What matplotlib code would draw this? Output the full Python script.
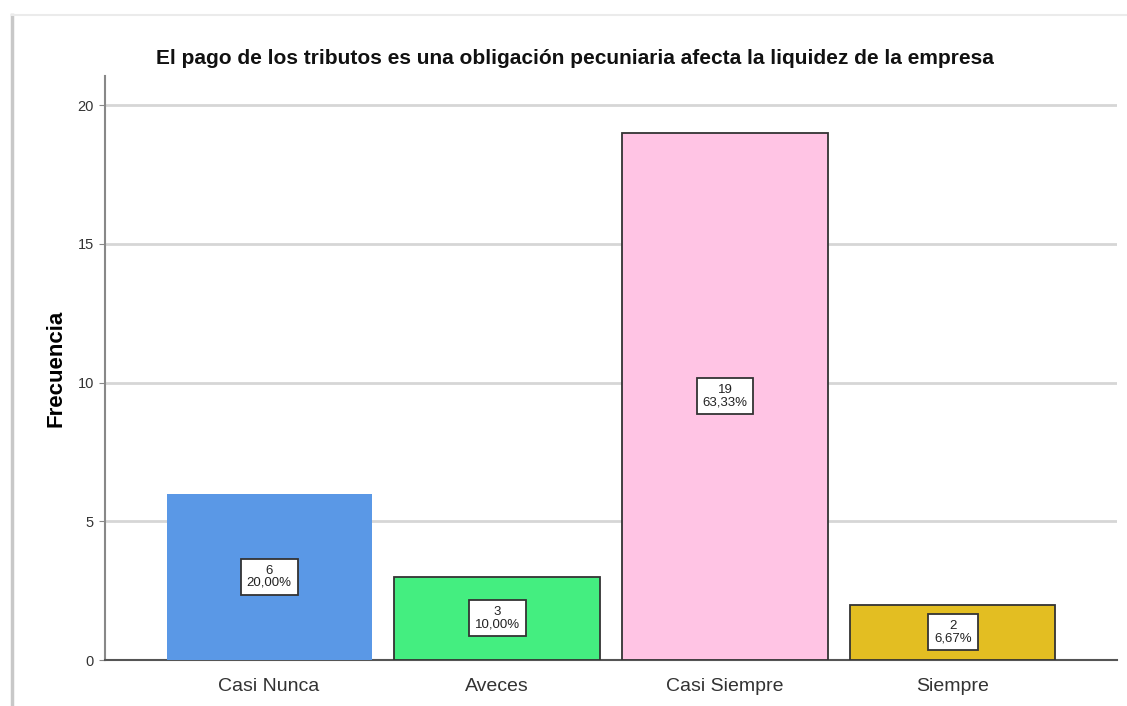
import matplotlib
matplotlib.use("Agg")
import matplotlib.pyplot as plt

categories = ["Casi Nunca", "Aveces", "Casi Siempre", "Siempre"]
counts = [6, 3, 19, 2]
percents = ["20,00%", "10,00%", "63,33%", "6,67%"]
colors = ["#5A98E6", "#44EE80", "#FFC4E4", "#E3BE22"]
edges = ["none", "#333333", "#333333", "#333333"]
yticks = [0, 5, 10, 15, 20]

plt.rcParams['font.family'] = ['Liberation Sans', 'DejaVu Sans']

fig = plt.figure(figsize=(11.27, 7.06), dpi=100)
fig.patch.set_facecolor("white")

# frame shadow
fig.add_artist(plt.Line2D([12/1127, 12/1127], [0, 1 - 15/706], color="#C8C8C8", lw=2.5, transform=fig.transFigure))
fig.add_artist(plt.Line2D([12/1127, 1], [1 - 15/706, 1 - 15/706], color="#EBEBEB", lw=1.5, transform=fig.transFigure))

ax = fig.add_axes([105/1127, 46/706, 1012/1127, 584/706])
x = list(range(len(categories)))
for i in x:
    ax.bar(i, counts[i], width=0.9, color=colors[i], edgecolor=edges[i], linewidth=1.3, zorder=3)
    ax.text(i, counts[i] / 2, f"{counts[i]}\n{percents[i]}", ha="center", va="center",
            fontsize=9.5, color="#222222", linespacing=1.0, zorder=4,
            bbox=dict(boxstyle="square,pad=0.45", fc="white", ec="#333333", lw=1.3))

ax.set_xlim(-0.72, 3.72)
ax.set_ylim(0, 21.05)
ax.set_yticks(yticks)
ax.set_yticklabels([str(v) for v in yticks], fontsize=10.5, color="#333333")
ax.set_xticks(x)
ax.set_xticklabels(categories, fontsize=14, color="#333333")
ax.tick_params(axis="x", length=0, pad=13)
ax.tick_params(axis="y", length=4, color="#888888", pad=4)
ax.grid(axis="y", color="#D6D6D6", lw=2, zorder=0)
for s in ["top", "right"]:
    ax.spines[s].set_visible(False)
ax.spines["left"].set_color("#888888")
ax.spines["left"].set_linewidth(1.5)
ax.spines["bottom"].set_color("#555555")
ax.spines["bottom"].set_linewidth(1.5)
ax.set_ylabel("Frecuencia", fontsize=16, fontweight="bold", labelpad=8)

fig.text(575/1127, 1 - 58/706, "El pago de los tributos es una obligación pecuniaria afecta la liquidez de la empresa",
         ha="center", va="center", fontsize=15, fontweight="bold", color="#111111")

fig.savefig("out.png", dpi=100)
